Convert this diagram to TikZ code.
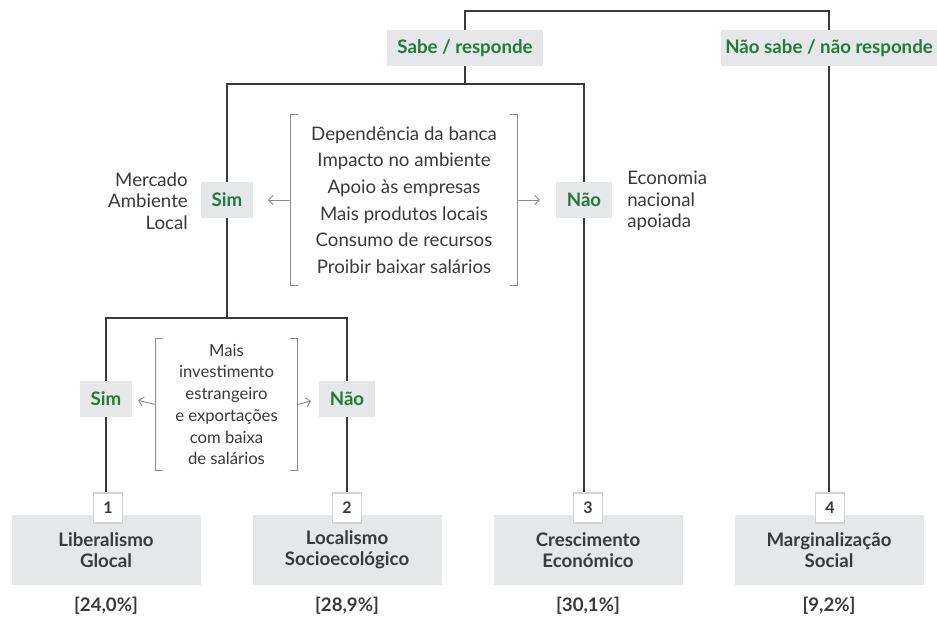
\documentclass[tikz,border=0pt]{standalone}
\usepackage{fontspec}
\setmainfont{Lato}
\usetikzlibrary{positioning,calc,arrows.meta}

\definecolor{leafgray}{HTML}{E6E7E8}
\definecolor{answergreen}{HTML}{1F7A3C}
\definecolor{inkgray}{HTML}{3A3A3A}
\definecolor{bracketgray}{HTML}{8C8C8C}

\tikzset{
  answer/.style={fill=leafgray, text=answergreen, inner xsep=8pt, inner ysep=0pt,
    minimum height=27pt, font=\fontsize{14}{16}\selectfont\bfseries},
  branch/.style={draw=inkgray, line width=1.3pt},
  critlist/.style={text=inkgray, align=center, inner sep=0pt},
  critbracket/.style={draw=bracketgray, line width=0.7pt},
  critarrow/.style={draw=bracketgray, line width=0.7pt, -{Straight Barb[length=3.5pt,width=7pt]}},
  sidenote/.style={text=inkgray, inner sep=0pt, font=\fontsize{14}{16}\selectfont},
  scenario/.style={fill=leafgray, text=inkgray, align=center, minimum width=141.75pt,
    minimum height=52.5pt, inner sep=0pt, font=\fontsize{14}{16}\selectfont\bfseries},
  tabnum/.style={draw=leafgray!80!gray, fill=white, line width=0.8pt, text=inkgray,
    minimum width=21.75pt, minimum height=22.5pt, inner sep=0pt,
    font=\fontsize{12}{14}\selectfont\bfseries},
  share/.style={text=inkgray, inner sep=0pt, font=\fontsize{14}{16}\selectfont\bfseries}
}

\begin{document}
\begin{tikzpicture}[x=0.75pt,y=-0.75pt]
    \useasboundingbox (0,0) rectangle (937,618);

    % First question
    \node[answer, minimum width=117pt] (sabe) at (465,48) {Sabe / responde};
    \node[answer, inner xsep=3pt, minimum width=159pt] (naosabe) at (829,48) {Não sabe / não responde};
    \coordinate (top) at (646,11);
    \draw[branch] (sabe.north) |- (top) -| (naosabe.north);

    % Second question
    \node[answer] (sim1) at (227,200) {Sim};
    \node[answer] (nao1) at (584,200) {Não};
    \coordinate (fork1) at (465,84);
    \draw[branch] (sabe.south -| fork1) -- (fork1);
    \draw[branch] (sim1.north) |- (fork1) -| (nao1.north);

    \node[critlist, minimum width=169.5pt, minimum height=127.5pt,
      font=\fontsize{14}{20}\selectfont] (crit1) at (404,200)
      {Dependência da banca\\Impacto no ambiente\\Apoio às empresas\\Mais produtos locais\\Consumo de recursos\\Proibir baixar salários};
    \draw[critbracket] ($(crit1.north west)+(7,0)$) -- (crit1.north west) -- (crit1.south west) -- ++(7,0);
    \draw[critbracket] ($(crit1.north east)+(-7,0)$) -- (crit1.north east) -- (crit1.south east) -- ++(-7,0);
    \draw[critarrow, shorten >=11pt] (crit1.west) -- (sim1.east);
    \draw[critarrow, shorten >=12pt] (crit1.east) -- (nao1.west);

    \node[sidenote, anchor=east, align=right] (mercado) at (188,201) {Mercado\\Ambiente\\Local};
    \node[sidenote, anchor=west, align=left] (economia) at (627,201) {Economia\\nacional\\apoiada};

    % Third question
    \node[answer] (sim2) at (106,399) {Sim};
    \node[answer] (nao2) at (347,399) {Não};
    \coordinate (fork2) at (227,318);
    \draw[branch] (sim1.south) -- (fork2);
    \draw[branch] (sim2.north) |- (fork2) -| (nao2.north);

    \node[critlist, minimum width=105.75pt, minimum height=98.25pt,
      font=\fontsize{12.5}{16.3}\selectfont] (crit2) at (226.5,404.5)
      {Mais\\investimento\\estrangeiro\\e exportações\\com baixa\\de salários};
    \draw[critbracket] ($(crit2.north west)+(7,0)$) -- (crit2.north west) -- (crit2.south west) -- ++(7,0);
    \draw[critbracket] ($(crit2.north east)+(-7,0)$) -- (crit2.north east) -- (crit2.south east) -- ++(-7,0);
    \draw[critarrow, shorten >=4.5pt] (crit2.west) -- (sim2.east);
    \draw[critarrow, shorten >=6pt] (crit2.east) -- (nao2.west);

    % Scenarios
    \node[scenario] (box1) at (106,550) {Liberalismo\\Glocal};
    \node[scenario] (box2) at (347,550) {Localismo\\Socioecológico};
    \node[scenario] (box3) at (588,550) {Crescimento\\Económico};
    \node[scenario] (box4) at (829,550) {Marginalização\\Social};

    \node[tabnum] (tab1) at (108,508) {1};
    \node[tabnum] (tab2) at (347,508) {2};
    \node[tabnum] (tab3) at (588,508) {3};
    \node[tabnum] (tab4) at (830,508) {4};

    \draw[branch] (sim2.south) -- (sim2.south |- tab1.north);
    \draw[branch] (nao2.south) -- (nao2.south |- tab2.north);
    \draw[branch] (nao1.south) -- (nao1.south |- tab3.north);
    \draw[branch] (naosabe.south) -- (naosabe.south |- tab4.north);

    \node[share] (pct1) at (106,606) {[24,0\%]};
    \node[share] (pct2) at (347,606) {[28,9\%]};
    \node[share] (pct3) at (588,606) {[30,1\%]};
    \node[share] (pct4) at (829,606) {[9,2\%]};
\end{tikzpicture}
\end{document}
